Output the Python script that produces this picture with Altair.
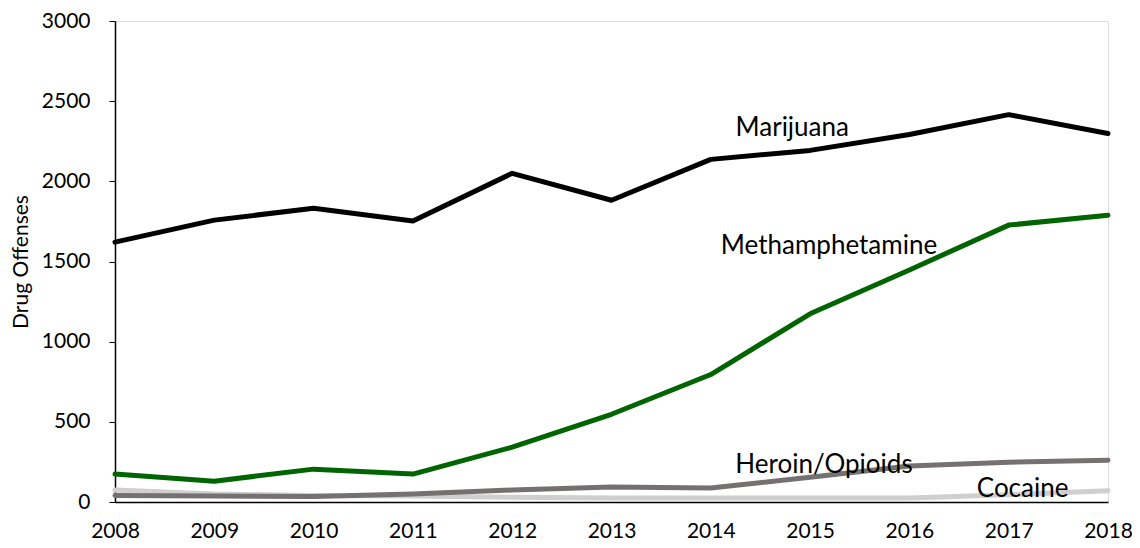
import altair as alt
import pandas as pd

years = list(range(2008, 2019))
series_names = ["Cocaine", "Heroin/Opioids", "Methamphetamine", "Marijuana"]
cocaine = [75, 50, 40, 38, 30, 25, 25, 25, 25, 45, 70]
heroin = [40, 37, 35, 50, 75, 93, 87, 155, 224, 248, 261]
meth = [174, 130, 205, 174, 342, 547, 795, 1174, 1447, 1727, 1789]
marijuana = [1621, 1758, 1832, 1752, 2050, 1882, 2137, 2193, 2292, 2416, 2298]
colors = ["#D0CECE", "#767171", "#006400", "#000000"]

label_text = ["Marijuana", "Methamphetamine", "Heroin/Opioids", "Cocaine"]
label_year = [2014.82, 2015.19, 2015.14, 2017.14]
label_value = [2335, 1596, 230, 81]

values = [cocaine, heroin, meth, marijuana]
rows = []
for name, vals in zip(series_names, values):
    for yr, v in zip(years, vals):
        rows.append({"Year": yr, "Offenses": v, "Drug": name})
df = pd.DataFrame(rows)
labels = pd.DataFrame({"text": label_text, "Year": label_year, "Offenses": label_value})

FONT = "Lato"

x = alt.X("Year:Q", scale=alt.Scale(domain=[2008, 2018], nice=False, zero=False),
          axis=alt.Axis(values=years, format="d", title=None, grid=False, ticks=False,
                        labelFontSize=21, labelPadding=18, labelFont=FONT, labelColor="#000",
                        domainColor="#000", domainWidth=1.5, labelFlush=False))
y = alt.Y("Offenses:Q", scale=alt.Scale(domain=[0, 3000], nice=False),
          axis=alt.Axis(values=[0, 500, 1000, 1500, 2000, 2500, 3000], format="d",
                        title="Drug Offenses",
                        grid=False, tickSize=6, tickColor="#000", labelFontSize=21, labelPadding=19,
                        labelFont=FONT, labelColor="#000", domainColor="#000", domainWidth=1.5,
                        titleFont=FONT, titleFontSize=21, titleFontWeight="normal", titleColor="#000",
                        titlePadding=10))

lines = alt.Chart(df).mark_line(strokeWidth=5, strokeCap="round", strokeJoin="round").encode(
    x=x, y=y,
    color=alt.Color("Drug:N", scale=alt.Scale(domain=series_names, range=colors), legend=None),
    order=alt.Order("Year:Q"),
)

text = alt.Chart(labels).mark_text(fontSize=26, font=FONT, color="#000", align="center",
                                   baseline="middle").encode(
    x=alt.X("Year:Q"), y=alt.Y("Offenses:Q"), text="text:N")

chart = alt.layer(lines, text).properties(
    width=993, height=481,
    autosize=alt.AutoSizeParams(type="none"),
    padding={"left": 107, "top": 13, "right": 24, "bottom": 38},
).configure_view(stroke=None).configure(background="white")

chart.save("out.html", embed_options={"renderer": "svg", "actions": False})
